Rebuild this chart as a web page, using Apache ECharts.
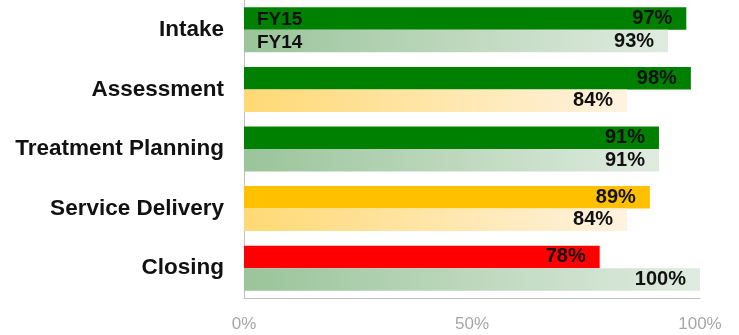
<!DOCTYPE html>
<html lang="en">

<head>
    <meta charset="utf-8" />
    <title>FY15 vs FY14</title>
    <script src="https://cdn.jsdelivr.net/npm/echarts@6.0.0/dist/echarts.min.js"></script>
    <style>
        html, body { margin: 0; padding: 0; background: #fff; }
        #chart { width: 739px; height: 335px; }
    </style>
</head>

<body>
    <div id="chart"></div>
    <script type="text/javascript">
        var categories = ["Intake", "Assessment", "Treatment Planning", "Service Delivery", "Closing"];
        var fy15 = [97, 98, 91, 89, 78];
        var fy14 = [93, 84, 91, 84, 100];
        var xTicks = [0, 50, 100];

        // status colour: green >= 90, amber 80-89, red below
        function solidColor(v) {
            if (v >= 90) return "#008000";
            if (v >= 80) return "#FFC000";
            return "#FF0000";
        }
        function fadedColor(v) {
            var stops = v >= 90 ? ["#9AC49A", "#E0EBE0"] : ["#FFD974", "#FFF3E0"];
            return {
                type: "linear", x: 0, y: 0, x2: 1, y2: 0,
                colorStops: [{ offset: 0, color: stops[0] }, { offset: 1, color: stops[1] }]
            };
        }

        var valueLabel = {
            show: true,
            position: "insideRight",
            distance: 14,
            formatter: "{c}%",
            color: "#111",
            fontFamily: "Liberation Sans",
            fontWeight: "bold",
            fontSize: 20
        };

        var legendText = {
            color: "#111",
            fontFamily: "Liberation Sans",
            fontWeight: "bold",
            fontSize: 19
        };

        var chart = echarts.init(document.getElementById("chart"));
        chart.setOption({
            animation: false,
            grid: { left: 244, right: 39, top: 0, bottom: 37 },
            legend: [
                { data: ["FY15"], left: 247, top: 5, itemWidth: 0, itemHeight: 0, selectedMode: false, textStyle: legendText },
                { data: ["FY14"], left: 247, top: 28, itemWidth: 0, itemHeight: 0, selectedMode: false, textStyle: legendText }
            ],
            xAxis: {
                type: "value",
                min: xTicks[0],
                max: xTicks[xTicks.length - 1],
                interval: xTicks[1] - xTicks[0],
                axisLine: { show: true, lineStyle: { color: "#BFBFBF" } },
                axisTick: { show: false },
                splitLine: { show: false },
                axisLabel: {
                    formatter: "{value}%",
                    color: "#A6A6A6",
                    fontFamily: "Liberation Sans",
                    fontSize: 17,
                    margin: 18
                }
            },
            yAxis: {
                type: "category",
                data: categories,
                inverse: true,
                axisLine: { show: true, lineStyle: { color: "#BFBFBF" } },
                axisTick: { show: false },
                axisLabel: {
                    color: "#111",
                    fontFamily: "Liberation Sans",
                    fontWeight: "bold",
                    fontSize: 22.5,
                    margin: 20
                }
            },
            series: [
                {
                    name: "FY15",
                    type: "bar",
                    barWidth: 22.5,
                    barGap: "0%",
                    data: fy15.map(function (v) {
                        return { value: v, itemStyle: { color: solidColor(v) } };
                    }),
                    label: valueLabel
                },
                {
                    name: "FY14",
                    type: "bar",
                    barWidth: 22.5,
                    barGap: "0%",
                    data: fy14.map(function (v) {
                        return { value: v, itemStyle: { color: fadedColor(v) } };
                    }),
                    label: valueLabel
                }
            ]
        });
    </script>
</body>

</html>
